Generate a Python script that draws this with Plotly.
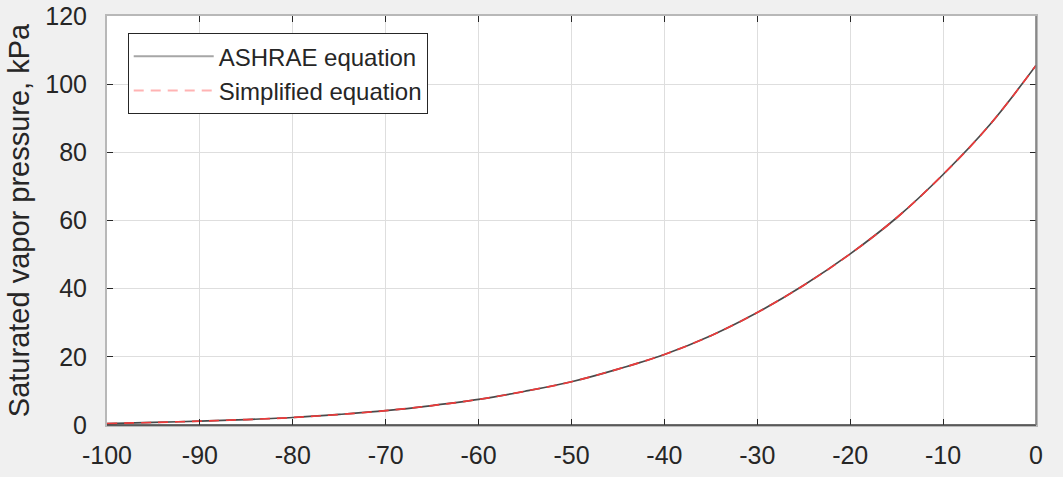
import plotly.graph_objects as go

temperature_c = [-100, -95, -90, -85, -80, -75, -70, -65, -60, -55, -50,
                 -45, -40, -35, -30, -25, -20, -15, -10, -5, 0]
ashrae_kpa = [0.4, 0.75, 1.15, 1.6, 2.2, 3.1, 4.2, 5.7, 7.5, 9.9, 12.7,
              16.4, 20.7, 26.2, 33.0, 41.0, 50.2, 60.8, 73.5, 88.0, 105.5]
simplified_kpa = [0.4, 0.75, 1.15, 1.6, 2.2, 3.1, 4.2, 5.7, 7.5, 9.9, 12.7,
                  16.4, 20.7, 26.2, 33.0, 41.0, 50.2, 60.8, 73.5, 88.0, 105.5]
series_names = ["ASHRAE equation", "Simplified equation"]
x_ticks = [-100, -90, -80, -70, -60, -50, -40, -30, -20, -10, 0]
y_ticks = [0, 20, 40, 60, 80, 100, 120]

FONT = "Liberation Sans, Arial, Helvetica, sans-serif"
TXT = "#262626"

fig = go.Figure()
fig.add_trace(go.Scatter(x=temperature_c, y=ashrae_kpa, mode="lines",
                         line=dict(color="#4a4a4a", width=1.7, shape="spline"),
                         showlegend=False))
fig.add_trace(go.Scatter(x=temperature_c, y=simplified_kpa, mode="lines",
                         line=dict(color="#ee3a3a", width=1.7, dash="10px,7px", shape="spline"),
                         showlegend=False))
# legend entries (lighter, as in the reference legend)
fig.add_trace(go.Scatter(x=[None], y=[None], mode="lines", name=series_names[0],
                         line=dict(color="#a6a6a6", width=2)))
fig.add_trace(go.Scatter(x=[None], y=[None], mode="lines", name=series_names[1],
                         line=dict(color="#ffb3b3", width=2, dash="10px,7px")))

axis_common = dict(showline=True, linecolor="#b8b8b8", linewidth=2, mirror="ticks",
                   ticks="inside", ticklen=6, tickcolor=TXT, tickwidth=1,
                   showgrid=True, gridcolor="#dedede", gridwidth=1, zeroline=False,
                   tickfont=dict(family=FONT, size=25, color=TXT))

fig.update_xaxes(range=[-100, 0], tickvals=x_ticks, ticktext=[str(v) for v in x_ticks],
                 ticklabelstandoff=7, **axis_common)
fig.update_yaxes(range=[0, 120], tickvals=y_ticks, ticktext=[str(v) for v in y_ticks],
                 ticklabelstandoff=13,
                 title=dict(text="Saturated vapor pressure, kPa",
                            font=dict(family=FONT, size=29, color=TXT), standoff=7),
                 **axis_common)

# darker bottom and right frame edges as in the reference
fig.add_shape(type="line", xref="x domain", yref="y domain", x0=0, x1=1, y0=0, y1=0,
              line=dict(color="#3a3a3a", width=1.5), layer="above")
fig.add_shape(type="line", xref="x domain", yref="y domain", x0=1, x1=1, y0=0, y1=1,
              line=dict(color="#787878", width=1.5), layer="above")

fig.update_layout(
    width=1063, height=477,
    margin=dict(l=107, r=27, t=16, b=52, autoexpand=False),
    paper_bgcolor="#f0f0f0", plot_bgcolor="white",
    font=dict(family=FONT, size=25, color=TXT),
    legend=dict(x=0.0223, y=0.958, xanchor="left", yanchor="top",
                bgcolor="white", bordercolor=TXT, borderwidth=1,
                font=dict(family=FONT, size=24, color=TXT),
                itemwidth=80, tracegroupgap=0),
)

fig.write_html("out.html")
